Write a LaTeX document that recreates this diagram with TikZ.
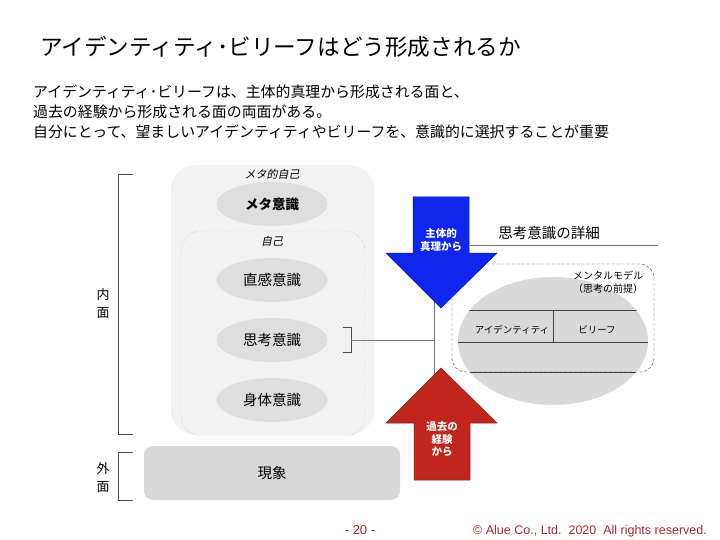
\documentclass[tikz,border=0pt]{standalone}
\usepackage{fontspec}
\setmainfont{Noto Sans CJK JP}
\newfontfamily\slantjp[FakeSlant=0.2]{Noto Sans CJK JP}
\newfontfamily\latinfont{Liberation Sans}
\usepackage{xcolor}
\usepackage{tikz}
\usetikzlibrary{shapes.geometric}

\definecolor{selfgray}{RGB}{242,242,242}
\definecolor{ovalgray}{RGB}{222,222,222}
\definecolor{phengray}{RGB}{217,217,217}
\definecolor{linegray}{RGB}{120,120,120}
\definecolor{truthblue}{RGB}{14,38,238}
\definecolor{pastred}{RGB}{192,38,30}
\definecolor{footred}{RGB}{168,40,40}
\newcommand{\fsz}[2]{\fontsize{#1}{#2}\selectfont}

\tikzset{
  consc/.style={ellipse, fill=ovalgray, minimum width=111pt, minimum height=44pt,
    inner sep=0pt, font=\fsz{14.5}{17}},
  tag/.style={font=\slantjp\fsz{11}{13}, inner sep=0pt},
  arrowtext/.style={text=white, font=\bfseries\fsz{10.5}{13}, align=center, inner sep=0pt},
  side/.style={font=\fsz{13}{18}, align=center, inner sep=0pt},
  lead/.style={anchor=west, inner sep=0pt, font=\fsz{14.9}{18}},
  bracketline/.style={draw=black!70, line width=0.6pt},
  linkline/.style={draw=linegray, line width=0.7pt}
}

\begin{document}
\begin{tikzpicture}[x=1pt, y=-1pt]
  \useasboundingbox (0,0) rectangle (720,540);

  % Title and lead text
  \node[anchor=west, inner sep=0pt, font=\fsz{22.6}{26}] (title) at (40,47)
    {アイデンティティ･ビリーフはどう形成されるか};
  \node[lead] (lead1) at (33,92)
    {アイデンティティ･ビリーフは、主体的真理から形成される面と、};
  \node[lead] (lead2) at (33,112)
    {過去の経験から形成される面の両面がある。};
  \node[lead] (lead3) at (33,132)
    {自分にとって、望ましいアイデンティティやビリーフを、意識的に選択することが重要};

  % Inner / outer brackets
  \draw[bracketline] (133,174) -- (118,174) -- (118,434) -- (133,434);
  \node[side] (inner) at (103,304) {内\\面};
  \draw[bracketline] (133,452) -- (118,452) -- (118,500) -- (133,500);
  \node[side] (outer) at (103,478) {外\\面};

  % Meta self and self
  \fill[selfgray, rounded corners=25] (171,165) rectangle (374,435);
  \draw[black!45, dotted, rounded corners=20] (181,231) rectangle (365,436);
  \node[tag] (metaself) at (272,174) {メタ的自己};
  \node[consc, font=\bfseries\fsz{13.5}{16}] (meta) at (272,204) {メタ意識};
  \node[tag] (self) at (272,241) {自己};
  \node[consc] (intuit) at (272,280) {直感意識};
  \node[consc] (think) at (272,340) {思考意識};
  \node[consc] (body) at (272,400) {身体意識};

  % Phenomena
  \node[fill=phengray, rounded corners=9, minimum width=256pt, minimum height=54pt,
    font=\fsz{14.5}{17}] (phen) at (272,473) {現象};

  % Link from thinking to the stem
  \draw[bracketline] (343,327) -- (351,327) -- (351,352) -- (343,352);
  \coordinate (brk) at (351,340);
  \coordinate (stem) at (434,340);
  \coordinate (stemtop) at (434,295);
  \coordinate (stembot) at (434,380);
  \draw[linkline] (brk) -- (stem);
  \draw[linkline] (stemtop) -- (stembot);

  % Detail of thinking
  \node[font=\fsz{14.5}{17}, inner sep=0pt] (detail) at (549,233) {思考意識の詳細};
  \coordinate (ulstart) at (470,245);
  \coordinate (ulend) at (658,245);
  \draw[linkline] (ulstart) -- (ulend);

  % Mental model
  \node[ellipse, fill=phengray, minimum width=190pt, minimum height=128pt] (mm) at (553,341) {};
  \begin{scope}
    \clip (553,341) ellipse [x radius=95, y radius=64];
    \draw[black!75, line width=0.6pt] (440,310) -- (670,310);
    \draw[black!75, line width=0.6pt] (440,342) -- (670,342);
    \draw[black!75, line width=0.6pt] (440,372) -- (670,372);
  \end{scope}
  \draw[black!75, line width=0.6pt] (553,310) -- (553,342);
  \draw[black!80, dash pattern=on 3pt off 2pt, rounded corners=14] (452,264) rectangle (654,372);
  \node[font=\fsz{9.5}{12}, inner sep=0pt] (ident) at (512,330) {アイデンティティ};
  \node[font=\fsz{9.5}{12}, inner sep=0pt] (belief) at (597,330) {ビリーフ};
  \node[font=\fsz{10}{12.5}, align=center, inner sep=0pt] (mmlabel) at (608,282)
    {メンタルモデル\\（思考の前提）};

  % Arrow from subjective truth
  \draw[fill=truthblue, draw=truthblue!70!black, line width=0.5pt]
    (413,197) -- (469,197) -- (469,253) -- (497,253) -- (441,308)
    -- (386,253) -- (413,253) -- cycle;
  \node[arrowtext] (truth) at (441,239.5) {主体的\\真理から};

  % Arrow from past experience
  \draw[fill=pastred, draw=pastred!70!black, line width=0.5pt]
    (441,368) -- (497,423) -- (470,423) -- (470,480) -- (414,480)
    -- (414,423) -- (386,423) -- cycle;
  \node[arrowtext, font=\bfseries\fsz{10.5}{12.5}] (past) at (442,439.5) {過去の\\経験\\から};

  % Footer
  \node[text=footred, font=\latinfont\fsz{13}{15}, inner sep=0pt] (page) at (360,530) {- 20 -};
  \node[text=footred, font=\latinfont\fsz{12.5}{15}, inner sep=0pt] (copy) at (590,531)
    {\textcopyright\ Alue Co., Ltd.\ \ 2020\ \ All rights reserved.};
\end{tikzpicture}
\end{document}
